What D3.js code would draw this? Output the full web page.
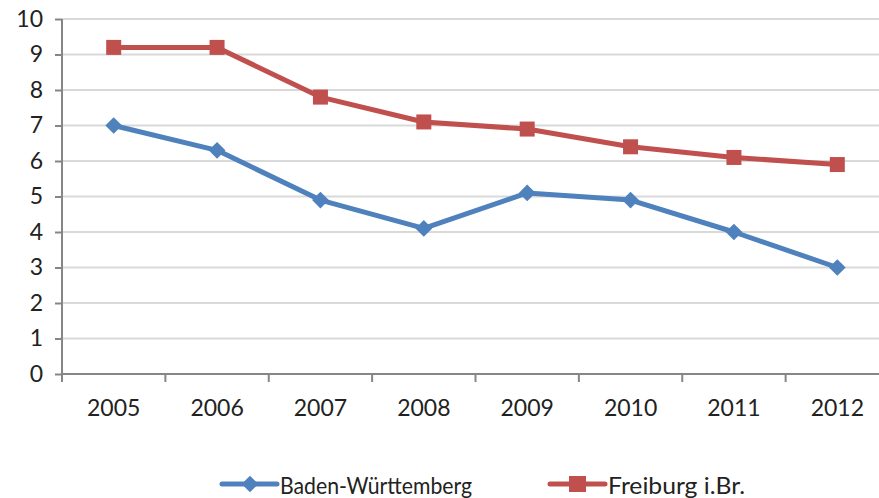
<!DOCTYPE html>
<html><head><meta charset="utf-8">
<script src="https://cdn.jsdelivr.net/npm/d3@7"></script>
<style>body{margin:0;background:#fff}svg{display:block}</style>
</head><body>
<svg id="c" width="879" height="498"></svg>
<script>
const years = ["2005","2006","2007","2008","2009","2010","2011","2012"];
const badenWuerttemberg = [7.0, 6.3, 4.9, 4.1, 5.1, 4.9, 4.0, 3.0];
const freiburg = [9.2, 9.2, 7.8, 7.1, 6.9, 6.4, 6.1, 5.9];
const yTicks = [0,1,2,3,4,5,6,7,8,9,10];
const seriesNames = ["Baden-Württemberg", "Freiburg i.Br."];

const svg = d3.select("#c");
const font = "Lato, sans-serif";
const plotLeft = 62, plotRight = 889, plotTop = 19, plotBottom = 374;
const x = d3.scaleBand().domain(years).range([plotLeft, plotRight]);
const y = d3.scaleLinear().domain([0,10]).range([plotBottom, plotTop]);

// gridlines
svg.append("g").selectAll("line").data(yTicks.filter(d=>d>0)).join("line")
  .attr("x1", plotLeft).attr("x2", 879).attr("y1", d=>y(d)).attr("y2", d=>y(d))
  .attr("stroke", "#d9d9d9").attr("stroke-width", 2);

// y axis
const ya = svg.append("g").attr("transform", `translate(${plotLeft},0)`)
  .call(d3.axisLeft(y).tickValues(yTicks).tickSize(7).tickPadding(12));
// x axis
const xa = svg.append("g").attr("transform", `translate(0,${plotBottom})`)
  .call(d3.axisBottom(x).tickSize(0).tickPadding(26));
// x tick marks at band boundaries
svg.append("g").selectAll("line").data(years).join("line")
  .attr("x1", d=>x(d)).attr("x2", d=>x(d)).attr("y1", plotBottom).attr("y2", plotBottom+8)
  .attr("stroke", "#868686").attr("stroke-width", 2);

[ya, xa].forEach(a=>{
  a.select(".domain").attr("stroke", "#868686").attr("stroke-width", 2);
  a.selectAll(".tick line").attr("stroke", "#868686").attr("stroke-width", 2);
  a.selectAll("text").attr("font-family", font).attr("font-size", 23).attr("fill", "#222");
});
xa.select(".domain").attr("d", `M${plotLeft},0H879`);
ya.select(".domain").attr("d", `M0,${plotBottom+8}V${plotTop}`);

const cx = d => x(d) + x.bandwidth()/2;
const line = d3.line().x((d,i)=>cx(years[i])).y(d=>y(d));

const colors = ["#4F81BD", "#C0504D"];
const data = [badenWuerttemberg, freiburg];

data.forEach((vals, si)=>{
  svg.append("path").datum(vals).attr("d", line).attr("fill","none")
    .attr("stroke", colors[si]).attr("stroke-width", 5).attr("stroke-linejoin","round");
});
// markers
const diamond = d3.symbol().type(d3.symbolSquare).size(140);
svg.append("g").selectAll("path").data(badenWuerttemberg).join("path")
  .attr("d", diamond).attr("fill", colors[0])
  .attr("transform", (d,i)=>`translate(${cx(years[i])},${y(d)}) rotate(45)`);
svg.append("g").selectAll("rect").data(freiburg).join("rect")
  .attr("x", (d,i)=>cx(years[i])-7.5).attr("y", d=>y(d)-7.5)
  .attr("width", 15).attr("height", 15).attr("fill", colors[1]);

// legend
const legendX = [222, 550];
const legendTextLen = [192, 137];
seriesNames.forEach((name, i)=>{
  const g = svg.append("g").attr("transform", `translate(${legendX[i]},484)`);
  g.append("line").attr("x1",0).attr("x2",55).attr("y1",0).attr("y2",0)
    .attr("stroke", colors[i]).attr("stroke-width", 5).attr("stroke-linecap","round");
  if (i===0) g.append("path").attr("d", diamond).attr("fill", colors[0]).attr("transform","translate(28,0) rotate(45)");
  else g.append("rect").attr("x",19).attr("y",-8).attr("width",17).attr("height",16).attr("fill",colors[1]);
  g.append("text").attr("x", 58).attr("y", 10).text(name)
    .attr("textLength", legendTextLen[i]).attr("lengthAdjust", "spacingAndGlyphs")
    .attr("font-family", font).attr("font-size", 23).attr("fill", "#222");
});
</script>
</body></html>
